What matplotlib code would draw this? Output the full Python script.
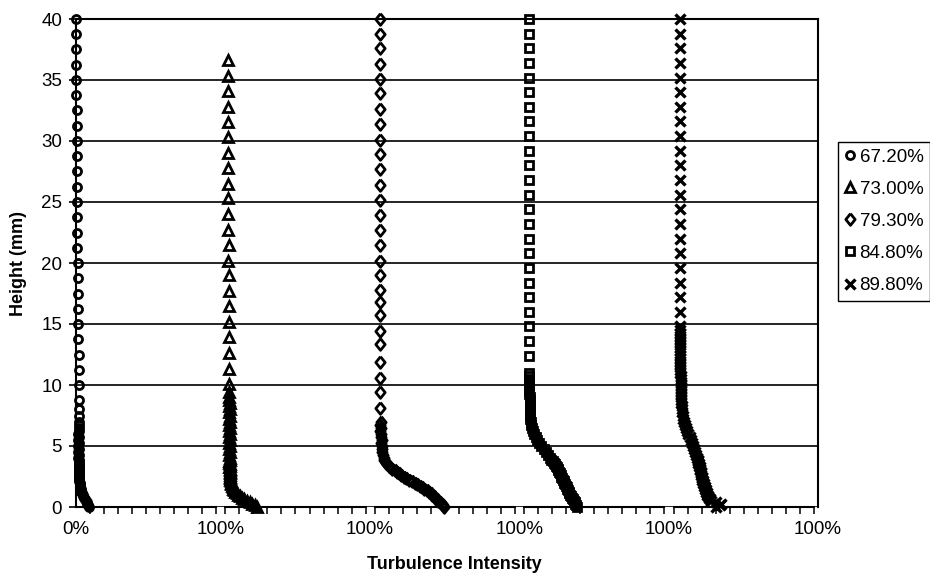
import matplotlib
matplotlib.use("Agg")
import matplotlib.pyplot as plt
import numpy as np

plt.rcParams['font.family'] = ['Liberation Sans', 'DejaVu Sans']

# legend labels (void fraction of each run)
labels = ['67.20%', '73.00%', '79.30%', '84.80%', '89.80%']
x_ticklabels = ['0%', '100%', '100%', '100%', '100%', '100%']

# fine probe heights near the wall (mm): 0.125 mm steps up to 4 mm,
# then 0.25 mm steps
fine_h = [0.0, 0.125, 0.25, 0.375, 0.5, 0.625, 0.75, 0.875, 1.0, 1.125,
          1.25, 1.375, 1.5, 1.625, 1.75, 1.875, 2.0, 2.125, 2.25, 2.375,
          2.5, 2.625, 2.75, 2.875, 3.0, 3.125, 3.25, 3.375, 3.5, 3.625,
          3.75, 3.875, 4.0,
          4.25, 4.5, 4.75, 5.0, 5.25, 5.5, 5.75, 6.0, 6.25, 6.5, 6.75, 7.0,
          7.25, 7.5, 7.75, 8.0, 8.25, 8.5, 8.75, 9.0, 9.25, 9.5, 9.75, 10.0,
          10.25, 10.5, 10.75, 11.0, 11.25, 11.5, 11.75, 12.0, 12.25, 12.5,
          12.75, 13.0, 13.25, 13.5, 13.75, 14.0, 14.25, 14.5]

# 67.20%
h1_coarse = [40.0, 38.75, 37.5, 36.25, 35.0, 33.75, 32.5, 31.25, 30.0, 28.75,
             27.5, 26.25, 25.0, 23.75, 22.5, 21.25, 20.0, 18.75, 17.5, 16.25,
             15.0, 13.75, 12.5, 11.25, 10.0, 8.75, 8.0, 7.5]
ti1_coarse = [0.000, 0.001, 0.002, 0.002, 0.003, 0.003, 0.004, 0.004, 0.005,
              0.005, 0.006, 0.006, 0.007, 0.008, 0.009, 0.010, 0.011, 0.012,
              0.013, 0.014, 0.016, 0.017, 0.018, 0.019, 0.020, 0.020, 0.019,
              0.019]
ti1_fine = [0.092, 0.087, 0.082, 0.076, 0.070, 0.064, 0.058, 0.052, 0.047,
            0.043, 0.039, 0.036, 0.033, 0.030, 0.028, 0.026, 0.025, 0.024,
            0.023, 0.022, 0.021, 0.023, 0.024, 0.020, 0.019, 0.022, 0.023,
            0.019, 0.018, 0.021, 0.022, 0.018, 0.017,
            0.022, 0.016, 0.021, 0.017, 0.022, 0.016, 0.021, 0.017, 0.020,
            0.018, 0.020, 0.018]

# 73.00%
h2_coarse = [36.6, 35.35, 34.1, 32.8, 31.55, 30.3, 29.0, 27.8, 26.5, 25.3,
             24.0, 22.7, 21.5, 20.2, 19.0, 17.7, 16.5, 15.2, 13.9, 12.6,
             11.35, 10.1, 9.4]
ti2_coarse = [0.019, 0.020, 0.019, 0.020, 0.021, 0.020, 0.021, 0.021, 0.022,
              0.021, 0.022, 0.022, 0.023, 0.022, 0.023, 0.024, 0.024, 0.025,
              0.026, 0.026, 0.027, 0.028, 0.029]
ti2_fine = [0.225, 0.210, 0.193, 0.172, 0.151, 0.135, 0.120, 0.106, 0.093,
            0.082, 0.072, 0.064, 0.057, 0.051, 0.046, 0.042, 0.039, 0.037,
            0.036, 0.035, 0.034, 0.033, 0.032, 0.030, 0.035, 0.031, 0.029,
            0.034, 0.033, 0.029, 0.028, 0.032, 0.033,
            0.028, 0.032, 0.027, 0.032, 0.027, 0.031, 0.027, 0.031, 0.027,
            0.031, 0.027, 0.030, 0.028, 0.030, 0.028, 0.030, 0.028, 0.030,
            0.029, 0.029]

# 79.30%
h3_coarse = [40.0, 38.8, 37.6, 36.3, 35.1, 33.9, 32.6, 31.4, 30.1, 28.9,
             27.7, 26.4, 25.2, 23.9, 22.7, 21.5, 20.2, 19.0, 17.8, 16.8,
             15.7, 14.4, 13.4, 11.9, 10.6, 9.4, 8.1]
ti3_coarse = [0.036, 0.037, 0.036, 0.037, 0.037, 0.036, 0.037, 0.037, 0.038,
              0.037, 0.037, 0.038, 0.037, 0.038, 0.038, 0.037, 0.038, 0.038,
              0.038, 0.039, 0.038, 0.039, 0.039, 0.039, 0.040, 0.040, 0.040]
ti3_fine = [0.495, 0.487, 0.478, 0.466, 0.453, 0.442, 0.432, 0.422, 0.411,
            0.399, 0.386, 0.370, 0.353, 0.337, 0.320, 0.303, 0.286, 0.266,
            0.246, 0.226, 0.205, 0.189, 0.173, 0.157, 0.142, 0.126, 0.111,
            0.099, 0.087, 0.079, 0.072, 0.068, 0.064,
            0.058, 0.053, 0.049, 0.050, 0.044, 0.048, 0.041, 0.046, 0.039,
            0.044, 0.038, 0.041]

# 84.80%
h4_coarse = [40.0, 38.8, 37.6, 36.4, 35.2, 34.0, 32.8, 31.6, 30.4, 29.2,
             28.0, 26.8, 25.6, 24.4, 23.2, 22.0, 20.8, 19.6, 18.4, 17.2,
             16.0, 14.8, 13.6, 12.4]
ti4_coarse = [0.034, 0.035, 0.034, 0.035, 0.035, 0.034, 0.035, 0.035, 0.035,
              0.036, 0.035, 0.036, 0.036, 0.035, 0.036, 0.036, 0.036, 0.037,
              0.036, 0.037, 0.037, 0.037, 0.036, 0.037]
ti4_fine = [0.376, 0.370, 0.365, 0.360, 0.355, 0.347, 0.339, 0.333, 0.328,
            0.323, 0.318, 0.312, 0.307, 0.302, 0.297, 0.291, 0.286, 0.281,
            0.276, 0.270, 0.265, 0.260, 0.255, 0.249, 0.244, 0.239, 0.234,
            0.226, 0.218, 0.210, 0.202, 0.194, 0.186,
            0.171, 0.155, 0.139, 0.123, 0.108, 0.092, 0.081, 0.071, 0.060,
            0.055, 0.050, 0.047, 0.044, 0.042, 0.041, 0.040, 0.039, 0.039,
            0.038, 0.038, 0.037, 0.037, 0.037, 0.036, 0.036, 0.036, 0.036,
            0.036]

# 89.80%
h5_coarse = [40.0, 38.8, 37.6, 36.4, 35.2, 34.0, 32.8, 31.6, 30.4, 29.2,
             28.0, 26.8, 25.6, 24.4, 23.2, 22.0, 20.8, 19.6, 18.4, 17.2,
             16.0, 14.8]
ti5_coarse = [0.044, 0.045, 0.044, 0.045, 0.045, 0.044, 0.045, 0.045, 0.046,
              0.045, 0.046, 0.045, 0.046, 0.046, 0.045, 0.046, 0.046, 0.046,
              0.047, 0.046, 0.047, 0.047]
ti5_fine = [0.299, 0.330, 0.341, 0.300, 0.267, 0.258, 0.251, 0.246, 0.241,
            0.237, 0.233, 0.229, 0.225, 0.221, 0.218, 0.214, 0.211, 0.208,
            0.206, 0.203, 0.201, 0.198, 0.196, 0.193, 0.190, 0.187, 0.185,
            0.182, 0.180, 0.177, 0.175, 0.172, 0.169,
            0.162, 0.155, 0.147, 0.140, 0.132, 0.125, 0.116, 0.106, 0.097,
            0.088, 0.081, 0.075, 0.069, 0.065, 0.062, 0.059, 0.057, 0.055,
            0.054, 0.053, 0.052, 0.052, 0.051, 0.051, 0.050, 0.050, 0.050,
            0.049, 0.049, 0.049, 0.048, 0.048, 0.048, 0.048, 0.047, 0.047,
            0.047, 0.047, 0.047, 0.047, 0.047, 0.047]

# open diamond a bit wider than matplotlib's thin diamond
diamond = [(0, 1), (0.8, 0), (0, -1), (-0.8, 0), (0, 1)]

series = [
    (h1_coarse, ti1_coarse, ti1_fine, 'o', 5.8, 2.0),
    (h2_coarse, ti2_coarse, ti2_fine, '^', 6.6, 2.0),
    (h3_coarse, ti3_coarse, ti3_fine, diamond, 8.4, 2.0),
    (h4_coarse, ti4_coarse, ti4_fine, 's', 5.6, 2.0),
    (h5_coarse, ti5_coarse, ti5_fine, 'x', 7.0, 2.4),
]

# each run sits in its own 0-100% panel, panels side by side
P = 1.0656  # panel pitch (panel width = 1)

fig = plt.figure(figsize=(9.3, 5.8), dpi=100)
ax = fig.add_axes([76/930, 1 - 507/580, 742/930, 488/580])

handles = []
for k, (hc, tc, tf, mk, ms, mew) in enumerate(series):
    h = list(fine_h[:len(tf)]) + list(hc)
    ti = list(tf) + list(tc)
    x = k * P + np.array(ti)
    ln, = ax.plot(x, h, linestyle='none', marker=mk, markersize=ms,
                  markeredgewidth=mew, markeredgecolor='black',
                  markerfacecolor='none', clip_on=False, zorder=3)
    handles.append(ln)

ax.set_xlim(0, 4 * P + 1)
ax.set_ylim(0, 40)

# gridlines
ax.set_yticks(range(0, 41, 5))
ax.yaxis.grid(True, color='black', linewidth=1.2)
ax.set_axisbelow(True)
ax.tick_params(axis='y', direction='out', length=5, width=1.2, pad=5,
               labelsize=13.5)

# x labels at panel ends, minor ticks every 10% inside each panel
major = [0.0] + [k * P + 1 + 0.03 for k in range(5)]
ax.set_xticks(major)
ax.set_xticklabels(x_ticklabels)
minor = []
for k in range(5):
    minor += list(k * P + np.linspace(0, 1, 11))
ax.set_xticks(minor, minor=True)
ax.tick_params(axis='x', which='major', length=0, pad=10, labelsize=13.5)
ax.tick_params(axis='x', which='minor', direction='out', length=5, width=1.1)

for s in ['left', 'right', 'top']:
    ax.spines[s].set_linewidth(1.5)
    ax.spines[s].set_color('black')
ax.spines['bottom'].set_visible(False)
for k in range(5):
    ax.plot([k * P, k * P + 1], [0, 0], color='black', lw=1.5,
            clip_on=False, zorder=2)

ax.set_ylabel('Height (mm)', fontsize=13, fontweight='bold')
ax.yaxis.set_label_coords(-0.066, 0.5)
ax.set_xlabel('Turbulence Intensity', fontsize=13, fontweight='bold')
ax.xaxis.set_label_coords(0.51, -0.100)

leg = fig.legend(handles, labels, loc='upper left',
                 bbox_to_anchor=(838/930, 1 - 142/580), frameon=True,
                 fancybox=False, edgecolor='black', framealpha=1,
                 fontsize=13.5, handlelength=0.6, handletextpad=0.2,
                 borderpad=0.35, labelspacing=0.8, borderaxespad=0)
leg.get_frame().set_linewidth(1.0)

fig.savefig('out.png', dpi=100)
